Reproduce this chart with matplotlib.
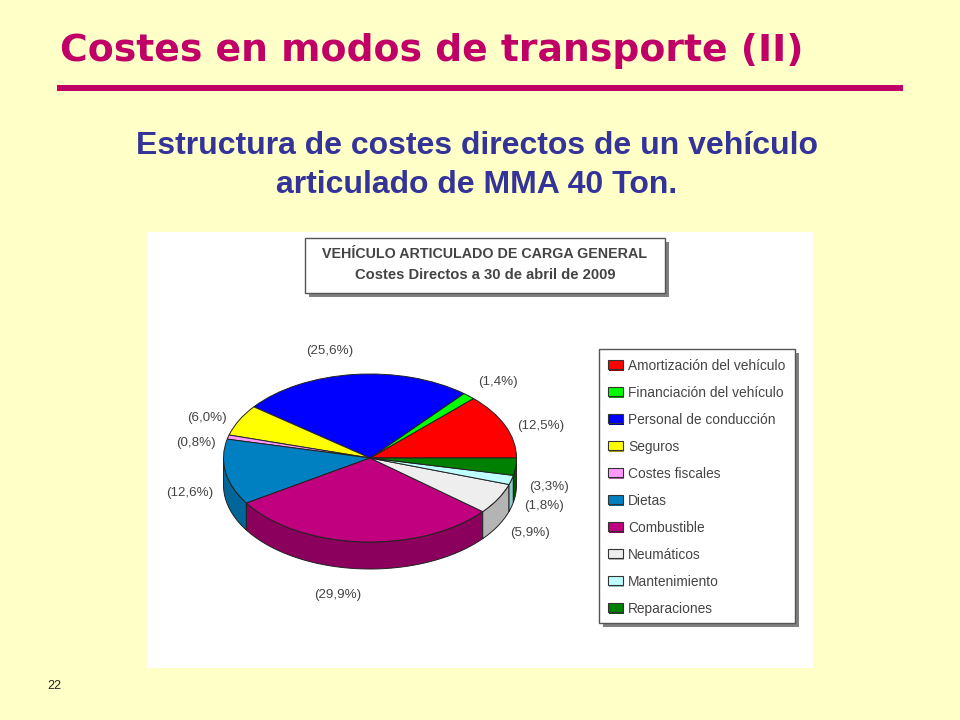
import numpy as np
import matplotlib
matplotlib.use("Agg")
import matplotlib.pyplot as plt
from matplotlib.patches import Rectangle

categories = ["Amortización del vehículo", "Financiación del vehículo", "Personal de conducción",
              "Seguros", "Costes fiscales", "Dietas", "Combustible", "Neumáticos",
              "Mantenimiento", "Reparaciones"]
values = [12.5, 1.4, 25.6, 6.0, 0.8, 12.6, 29.9, 5.9, 1.8, 3.3]
value_labels = ["(12,5%)", "(1,4%)", "(25,6%)", "(6,0%)", "(0,8%)", "(12,6%)", "(29,9%)", "(5,9%)", "(1,8%)", "(3,3%)"]
top_colors = ["#FF0000", "#00FF00", "#0000FF", "#FFFF00", "#FF99FF", "#0080C0", "#C0007F", "#EEEEEE", "#C0FFFF", "#008000"]
side_colors = ["#A00000", "#00A000", "#0000A0", "#A0A000", "#A060A0", "#006699", "#8A005C", "#B4B4B4", "#90C8C8", "#005800"]
label_px = [(541, 426), (498, 382), (330, 351), (207, 418), (196, 443), (190, 493), (338, 595), (530, 533), (544, 506), (549, 487)]

BG = "#FFFFC8"
fig = plt.figure(figsize=(9.6, 7.2), dpi=100, facecolor=BG)
bg = fig.add_axes([0, 0, 1, 1])
bg.set_xlim(0, 960); bg.set_ylim(720, 0); bg.axis("off")

SANS = "Liberation Sans"
bg.text(60, 51, "Costes en modos de transporte (II)", family="DejaVu Sans", weight="bold",
        fontsize=27.2, color="#C00066", va="center", ha="left")
bg.add_patch(Rectangle((57, 85), 846, 5.5, fc="#C00066", ec="none"))
bg.text(477, 146, "Estructura de costes directos de un vehículo", family=SANS, weight="bold",
        fontsize=23, color="#333399", ha="center", va="center")
bg.text(477, 185, "articulado de MMA 40 Ton.", family=SANS, weight="bold",
        fontsize=23, color="#333399", ha="center", va="center")
bg.text(54, 686, "22", family=SANS, fontsize=9, color="#222222", ha="center", va="center")

# white panel
bg.add_patch(Rectangle((147, 232), 666, 436, fc="white", ec="none", zorder=1))

# title box
bg.add_patch(Rectangle((309, 242), 360, 55, fc="#808080", ec="none", zorder=2))
bg.add_patch(Rectangle((305, 238), 360, 55, fc="white", ec="#555555", lw=1.0, zorder=3))
bg.text(485, 254, "VEHÍCULO ARTICULADO DE CARGA GENERAL", family=SANS, weight="bold", fontsize=10.3,
        color="#444444", ha="center", va="center", zorder=4)
bg.text(485, 275, "Costes Directos a 30 de abril de 2009", family=SANS, weight="bold", fontsize=10.6,
        color="#444444", ha="center", va="center", zorder=4)

# legend box
bg.add_patch(Rectangle((603, 353), 196, 274, fc="#808080", ec="none", zorder=2))
bg.add_patch(Rectangle((599, 349), 196, 274, fc="white", ec="#555555", lw=1.0, zorder=3))
for i, (name, col, side) in enumerate(zip(categories, top_colors, side_colors)):
    y = 365 + 27 * i
    bg.add_patch(Rectangle((609, y - 3), 15, 8.5, fc=side, ec="none", zorder=4))
    bg.add_patch(Rectangle((608, y - 5), 15, 9, fc=col, ec="#333333", lw=0.8, zorder=5))
    bg.text(628, y + 1, name, family=SANS, fontsize=9.9, color="#444444", va="center", ha="left", zorder=5)

# value labels
for lab, (x, y) in zip(value_labels, label_px):
    bg.text(x, y, lab, family=SANS, fontsize=9.6, color="#444444", ha="center", va="center", zorder=5)

# pie: unit circle stretched into an ellipse
CX, CY, RX, RY, DEPTH = 370, 458, 146.5, 84, 27
ax = fig.add_axes([147 / 960, 1 - 668 / 720, 666 / 960, 436 / 720])
depth = DEPTH / RY
edges = np.cumsum([0] + values) / sum(values) * 2 * np.pi
for a0, a1, side in zip(edges[:-1], edges[1:], side_colors):
    lo, hi = max(a0, np.pi), min(a1, 2 * np.pi)
    if hi <= lo:
        continue
    t = np.linspace(lo, hi, 60)
    xs = np.r_[np.cos(t), np.cos(t[::-1])]
    ys = np.r_[np.sin(t), np.sin(t[::-1]) - depth]
    ax.fill(xs, ys, fc=side, ec="#222222", lw=0.7, zorder=1)
ax.pie(values, colors=top_colors, startangle=0, counterclock=True, radius=1,
       wedgeprops=dict(edgecolor="#222222", linewidth=0.7, zorder=2))
ax.set_aspect("auto")
ax.set_xlim((147 - CX) / RX, (813 - CX) / RX)
ax.set_ylim((CY - 668) / RY, (CY - 232) / RY)
ax.axis("off")
ax.patch.set_alpha(0)

fig.savefig("out.png", dpi=100, facecolor=BG)
